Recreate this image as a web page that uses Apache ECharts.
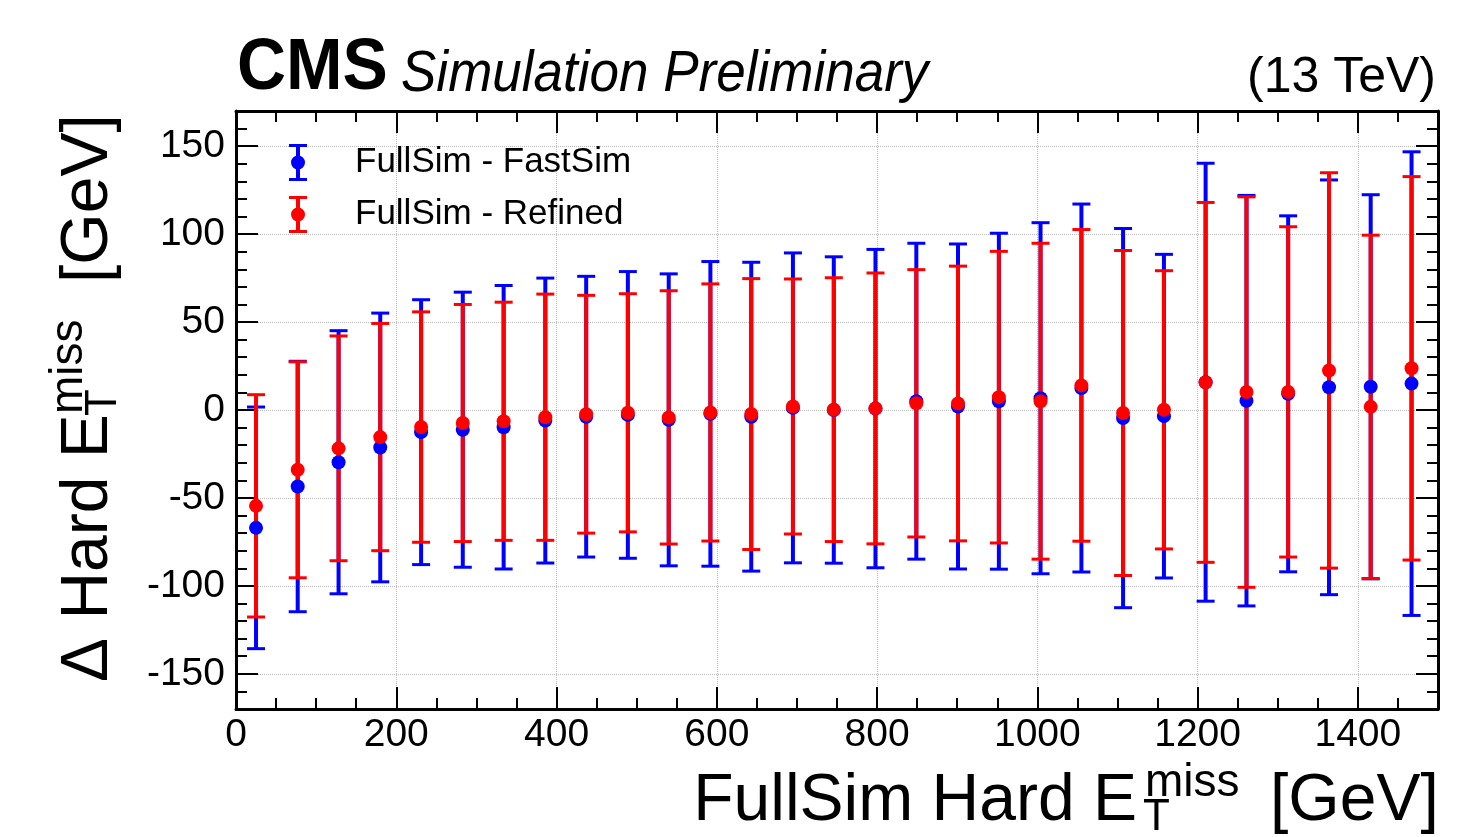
<!DOCTYPE html>
<html>
<head>
<meta charset="utf-8">
<title>CMS Simulation Preliminary - Hard MET residuals</title>
<script src="https://cdn.jsdelivr.net/npm/echarts@6/dist/echarts.min.js"></script>
<style>
  html, body { margin: 0; padding: 0; background: #fff; }
  #main { width: 1457px; height: 837px; }
</style>
</head>
<body>
<div id="main"></div>
<script>
// bin centres (GeV)
var binCenters = [25, 77, 128, 180, 231, 283, 334, 386, 437, 489, 540, 592, 643, 695, 746,
                  798, 849, 901, 952, 1004, 1055, 1107, 1158, 1210, 1261, 1313, 1364, 1416, 1467];

// FullSim - FastSim
var fastVals = [-67, -43.5, -29.7, -21.3, -12.6, -11.2, -9.8, -6, -3.8, -2.8, -5.6, -2.2, -3.8, 1.2, 0,
                0.8, 5, 2, 5, 6.7, 12.5, -4.6, -3.5, 15.8, 5.3, 9.2, 12.9, 13.2, 15];
var fastErrs = [68.7, 71.2, 74.8, 76.4, 75.3, 78.2, 80.6, 81, 79.8, 81.5, 83, 86.6, 87.8, 88.1, 87.1,
                90.5, 89.8, 92.4, 95.5, 99.8, 104.6, 107.8, 92, 124.5, 116.7, 101.2, 117.9, 109.2, 131.8];

// FullSim - Refined
var refVals = [-54.5, -34, -21.8, -15.4, -9.7, -7.4, -6.4, -4.1, -2.4, -1.6, -4.2, -1.4, -2.3, 2, 0.2,
               0.9, 3.8, 3.7, 7.3, 5, 14, -1.7, 0.1, 15.7, 10.2, 10.3, 22.5, 1.8, 23.7];
var refErrs = [63.2, 61.4, 63.9, 64.6, 65.5, 67.4, 67.7, 70, 67.6, 67.7, 72, 73.1, 77, 72.5, 75,
               77, 76, 78.1, 82.9, 89.8, 88.6, 92.4, 79.1, 102.3, 111, 93.9, 112.4, 97.6, 109];

var seriesNames = ['FullSim - FastSim', 'FullSim - Refined'];

var FONT = '"Liberation Sans", Arial, Helvetica, sans-serif';
var BLUE = '#0000ff';
var RED = '#ff0000';

// legend icon: error bar with a dot
var errIcon = 'path://M0 0H18V3H0Z M7 0H11V37H7Z M0 34H18V37H0Z ' +
              'M2 18.5A7 7 0 1 1 16 18.5A7 7 0 1 1 2 18.5Z';

function pts(vals) {
    return binCenters.map(function (x, i) { return [x, vals[i]]; });
}
function bars(vals, errs) {
    return binCenters.map(function (x, i) { return [x, vals[i] - errs[i], vals[i] + errs[i]]; });
}

function errorBar(color) {
    return function (params, api) {
        var x = api.value(0);
        var lo = api.coord([x, api.value(1)]);
        var hi = api.coord([x, api.value(2)]);
        var hw = 9;
        return {
            type: 'group',
            children: [
                { type: 'line', shape: { x1: hi[0], y1: hi[1], x2: lo[0], y2: lo[1] },
                  style: { stroke: color, lineWidth: 4 } },
                { type: 'line', shape: { x1: hi[0] - hw, y1: hi[1], x2: hi[0] + hw, y2: hi[1] },
                  style: { stroke: color, lineWidth: 3 } },
                { type: 'line', shape: { x1: lo[0] - hw, y1: lo[1], x2: lo[0] + hw, y2: lo[1] },
                  style: { stroke: color, lineWidth: 3 } }
            ]
        };
    };
}

function plain(v) { return String(v); }

// axis helpers: major (labelled or not) and minor tick axes for the frame
function xAx(pos, interval, tickLen, labels, line, split) {
    return {
        type: 'value', position: pos, min: 0, max: 1500, interval: interval,
        axisLine: { show: line, onZero: false, lineStyle: { color: '#000', width: 3 } },
        axisTick: { show: true, inside: true, length: tickLen, lineStyle: { color: '#000', width: 2 } },
        axisLabel: { show: labels, margin: 7, fontSize: 39, color: '#000', fontFamily: FONT,
                     showMaxLabel: false, formatter: plain },
        splitLine: { show: split, lineStyle: { color: '#bbbbbb', type: 'dotted', width: 1 } }
    };
}
function yAx(pos, interval, tickLen, labels, line, split) {
    var a = {
        type: 'value', position: pos, min: -170, max: 170,
        axisLine: { show: line, onZero: false, lineStyle: { color: '#000', width: 3 } },
        axisTick: { show: true, inside: true, length: tickLen, lineStyle: { color: '#000', width: 2 } },
        axisLabel: { show: labels, margin: 11, fontSize: 39, color: '#000', fontFamily: FONT,
                     showMinLabel: false, showMaxLabel: false, formatter: plain },
        splitLine: { show: split, lineStyle: { color: '#bbbbbb', type: 'dotted', width: 1 } }
    };
    if (interval) a.interval = interval; else a.splitNumber = 7;
    return a;
}

var myChart = echarts.init(document.getElementById('main'));

myChart.setOption({
    animation: false,
    backgroundColor: '#fff',
    grid: { left: 236, top: 111, width: 1202, height: 598, containLabel: false },
    xAxis: [
        xAx('bottom', 200, 22, true, true, true),
        xAx('bottom', 50, 11, false, false, false),
        xAx('top', 200, 22, false, true, false),
        xAx('top', 50, 11, false, false, false)
    ],
    yAxis: [
        yAx('left', null, 22, true, true, true),
        yAx('left', 10, 11, false, false, false),
        yAx('right', null, 22, false, true, false),
        yAx('right', 10, 11, false, false, false)
    ],
    legend: {
        orient: 'vertical',
        left: 284,
        top: 139,
        itemWidth: 18,
        itemHeight: 37,
        itemGap: 15,
        selectedMode: false,
        textStyle: { fontSize: 35, color: '#000', fontFamily: FONT, padding: [0, 0, 0, 43] },
        data: [
            { name: seriesNames[0], icon: errIcon, itemStyle: { opacity: 1 } },
            { name: seriesNames[1], icon: errIcon, itemStyle: { opacity: 1 } }
        ]
    },
    series: [
        {
            type: 'custom', name: 'fastErr', silent: true,
            renderItem: errorBar(BLUE),
            encode: { x: 0, y: [1, 2] },
            data: bars(fastVals, fastErrs), z: 2
        },
        {
            type: 'custom', name: 'refErr', silent: true,
            renderItem: errorBar(RED),
            encode: { x: 0, y: [1, 2] },
            data: bars(refVals, refErrs), z: 3
        },
        {
            type: 'scatter', name: seriesNames[0], silent: true,
            symbol: 'circle', symbolSize: 14,
            itemStyle: { color: BLUE, opacity: 1 },
            data: pts(fastVals), z: 4
        },
        {
            type: 'scatter', name: seriesNames[1], silent: true,
            symbol: 'circle', symbolSize: 14,
            itemStyle: { color: RED, opacity: 1 },
            data: pts(refVals), z: 5
        }
    ],
    graphic: [
        { type: 'text', x: 237, y: 69, scaleX: 0.93,
          style: { text: 'CMS', font: 'bold 73px ' + FONT, fill: '#000',
                   align: 'left', verticalAlign: 'middle' } },
        { type: 'text', x: 401, y: 75, scaleX: 0.93,
          style: { text: 'Simulation Preliminary', font: 'italic 57px ' + FONT, fill: '#000',
                   align: 'left', verticalAlign: 'middle' } },
        { type: 'text', x: 1436, y: 78,
          style: { text: '(13 TeV)', font: '50px ' + FONT, fill: '#000',
                   align: 'right', verticalAlign: 'middle' } },
        // x axis title
        { type: 'text', x: 1137, y: 802,
          style: { text: 'FullSim Hard E', font: '66px ' + FONT, fill: '#000',
                   align: 'right', verticalAlign: 'middle' } },
        { type: 'text', x: 1145, y: 783,
          style: { text: 'miss', font: '46px ' + FONT, fill: '#000',
                   align: 'left', verticalAlign: 'middle' } },
        { type: 'text', x: 1143, y: 818,
          style: { text: 'T', font: '44px ' + FONT, fill: '#000',
                   align: 'left', verticalAlign: 'middle' } },
        { type: 'text', x: 1270, y: 802,
          style: { text: '[GeV]', font: '66px ' + FONT, fill: '#000',
                   align: 'left', verticalAlign: 'middle' } },
        // y axis title, rotated
        {
            type: 'group', x: 112, y: 682, rotation: Math.PI / 2,
            children: [
                { type: 'text', x: 0, y: -23,
                  style: { text: '\u0394 Hard E', font: '66px ' + FONT, fill: '#000',
                           align: 'left', verticalAlign: 'middle' } },
                { type: 'text', x: 268, y: -43,
                  style: { text: 'miss', font: '46px ' + FONT, fill: '#000',
                           align: 'left', verticalAlign: 'middle' } },
                { type: 'text', x: 266, y: -8,
                  style: { text: 'T', font: '44px ' + FONT, fill: '#000',
                           align: 'left', verticalAlign: 'middle' } },
                { type: 'text', x: 399, y: -23,
                  style: { text: '[GeV]', font: '66px ' + FONT, fill: '#000',
                           align: 'left', verticalAlign: 'middle' } }
            ]
        }
    ]
});
</script>
</body>
</html>
